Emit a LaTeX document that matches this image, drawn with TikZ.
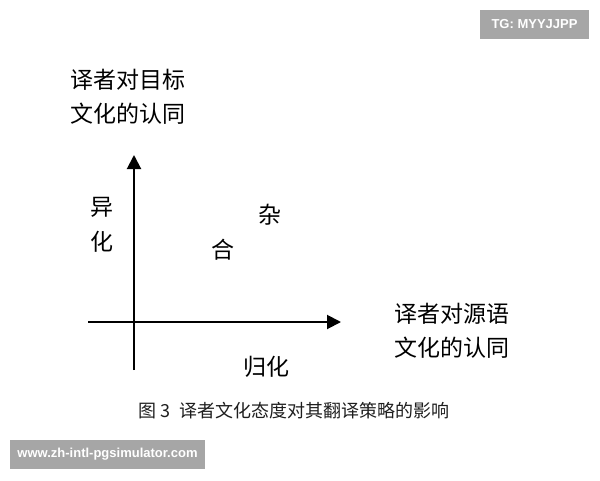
\documentclass[tikz,border=0pt]{standalone}
\usepackage{fontspec}
\setmainfont{Liberation Sans}
\newfontfamily\cjk{Noto Sans CJK SC}
\usetikzlibrary{arrows.meta}
\definecolor{wmgray}{HTML}{A6A6A6}
\definecolor{capgray}{HTML}{1E1E1E}
\begin{document}
\begin{tikzpicture}[x=1pt,y=-1pt,
                    lbl/.style={font=\cjk\fontsize{23}{34}\selectfont,align=center,inner sep=0pt},
                    axis/.style={line width=2pt,-{Triangle[length=14pt,width=14pt]}},
                    wmbox/.style={fill=wmgray,text=white,font=\bfseries\fontsize{13}{15}\selectfont,inner sep=0pt}]
                                     \useasboundingbox[fill=white] (0,0) rectangle (600,480);
                                     \coordinate (xs) at (88,322);
                                     \coordinate (xe) at (341,322);
                                     \coordinate (ys) at (134,370);
                                     \coordinate (ye) at (134,155);
                                     \draw[axis] (xs) -- (xe);
                                     \draw[axis] (ys) -- (ye);
                                     \node[lbl] (tgt) at (128,97) {译者对目标\\文化的认同};
                                     \node[lbl] (src) at (452,331) {译者对源语\\文化的认同};
                                     \node[lbl,font=\cjk\fontsize{23}{35}\selectfont] (yh) at (102,224.5) {异\\化};
                                     \node[lbl] (za) at (270,215) {杂};
                                     \node[lbl] (he) at (223,250) {合};
                                     \node[lbl] (gh) at (266,367) {归化};
                                     \node[font=\cjk\fontsize{18}{20}\selectfont,text=capgray,inner sep=0pt] (cap) at (294,411) {图 3\hspace{9pt}译者文化态度对其翻译策略的影响};
                                     \node[wmbox,minimum width=109pt,minimum height=29pt] (tg) at (534.5,24.5) {TG: MYYJJPP};
                                     \node[wmbox,minimum width=195pt,minimum height=29pt] (www) at (107.5,454.5) {www.zh-intl-pgsimulator.com};
                                 \end{tikzpicture}
\end{document}
